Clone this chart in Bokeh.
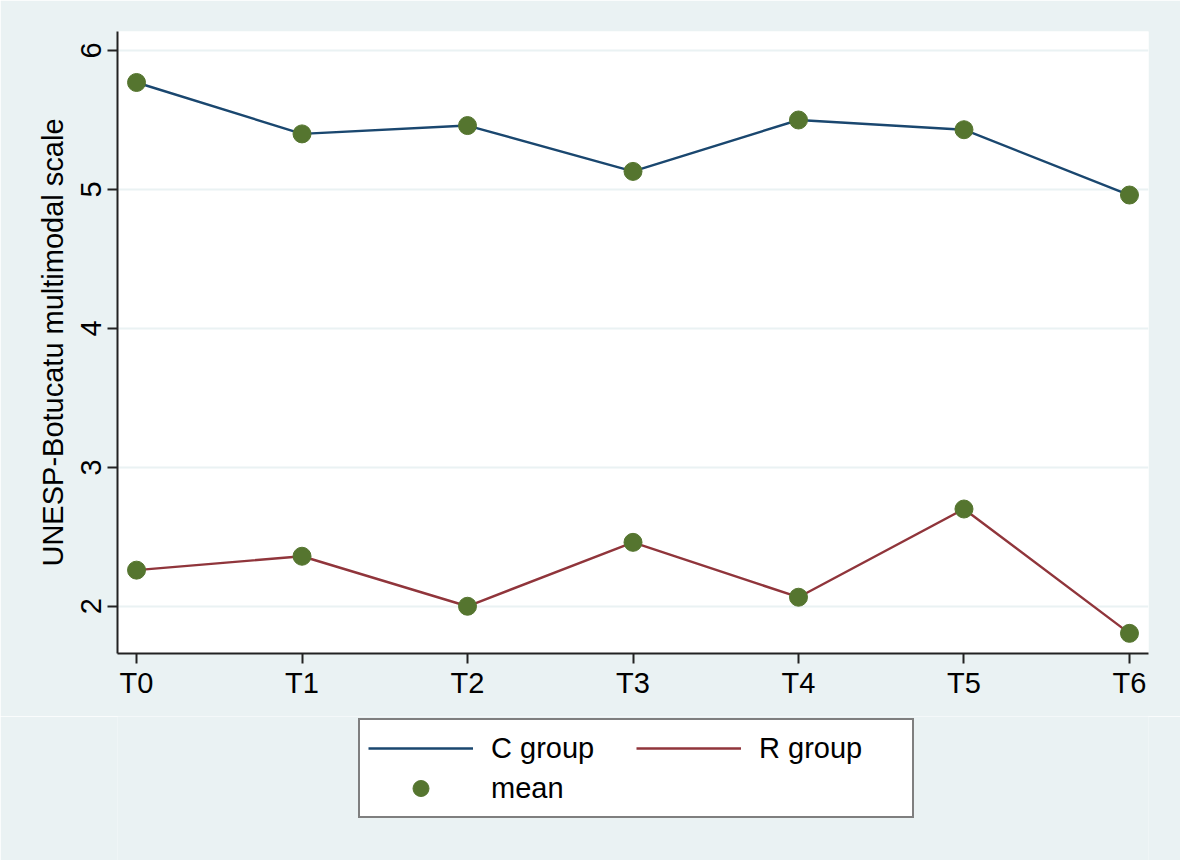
from bokeh.plotting import figure
from bokeh.layouts import column
from bokeh.models import Range1d, FixedTicker, Legend, LegendItem, ColumnDataSource
from bokeh.embed import file_html
from bokeh.resources import INLINE

categories = ["T0", "T1", "T2", "T3", "T4", "T5", "T6"]
c_group = [5.77, 5.40, 5.46, 5.13, 5.50, 5.43, 4.96]
r_group = [2.26, 2.36, 2.00, 2.46, 2.065, 2.70, 1.805]
y_ticks = [2, 3, 4, 5, 6]
legend_labels = ["C group", "R group", "mean"]

FONT = "Liberation Sans"
BG = "#EAF2F3"
C_COL = "#1A476F"
R_COL = "#90353B"
M_COL = "#55752F"

x = list(range(len(categories)))
src = ColumnDataSource(dict(x=x, c=c_group, r=r_group))

p = figure(width=1180, height=716, output_backend="svg", toolbar_location=None,
           x_range=Range1d(-0.115, 6.115), y_range=Range1d(1.66, 6.137),
           min_border_left=117, min_border_right=32, min_border_top=31, min_border_bottom=63)
p.border_fill_color = BG
p.background_fill_color = "white"
p.outline_line_color = None

p.line("x", "c", source=src, line_color=C_COL, line_width=2.4)
p.line("x", "r", source=src, line_color=R_COL, line_width=2.4)
p.scatter("x", "c", source=src, size=18, fill_color=M_COL, line_color=M_COL)
p.scatter("x", "r", source=src, size=18, fill_color=M_COL, line_color=M_COL)

# axes
p.xaxis.ticker = FixedTicker(ticks=x)
p.xaxis.major_label_overrides = {i: c for i, c in enumerate(categories)}
p.yaxis.ticker = FixedTicker(ticks=y_ticks)
p.yaxis.axis_label = "UNESP-Botucatu multimodal scale"
p.yaxis.major_label_orientation = "vertical"
for ax in (p.xaxis[0], p.yaxis[0]):
    ax.axis_line_color = "#222222"
    ax.axis_line_width = 2
    ax.major_tick_line_color = "#222222"
    ax.major_tick_line_width = 2
    ax.major_tick_out = 10
    ax.major_tick_in = 0
    ax.minor_tick_line_color = None
    ax.major_label_text_font = FONT
    ax.major_label_text_font_size = "29px"
    ax.major_label_text_color = "black"
    ax.axis_label_text_font = FONT
    ax.axis_label_text_font_size = "29px"
    ax.axis_label_text_font_style = "normal"
    ax.axis_label_text_color = "black"
p.xaxis.major_label_standoff = 3
p.yaxis.major_label_standoff = 6
p.yaxis.axis_label_standoff = 10

p.xgrid.grid_line_color = None
p.ygrid.grid_line_color = BG
p.ygrid.grid_line_width = 2

# legend strip (separate figure below the plot, no axes)
p2 = figure(width=1180, height=144, output_backend="svg", toolbar_location=None,
            x_range=Range1d(0, 1), y_range=Range1d(0, 1),
            x_axis_location=None, y_axis_location=None,
            min_border_left=0, min_border_right=0, min_border_top=0, min_border_bottom=0)
p2.grid.visible = False
p2.outline_line_color = None
p2.background_fill_color = BG
p2.border_fill_color = BG
# off-range placeholder point so the legend swatches have styles to draw
dummy = ColumnDataSource(dict(x=[-10], y=[-10]))
g1 = p2.line("x", "y", source=dummy, line_color=C_COL, line_width=2.4)
g2 = p2.line("x", "y", source=dummy, line_color=R_COL, line_width=2.4)
g3 = p2.scatter("x", "y", source=dummy, size=18, fill_color=M_COL, line_color=M_COL)

legend = Legend(items=[
    LegendItem(label=legend_labels[0], renderers=[g1]),
    LegendItem(label=legend_labels[1], renderers=[g2]),
    LegendItem(label=legend_labels[2], renderers=[g3]),
], location=(241, 42), orientation="horizontal", ncols=2)
legend.label_text_font = FONT
legend.label_text_font_size = "29px"
legend.label_text_color = "black"
legend.glyph_width = 105
legend.glyph_height = 40
legend.label_height = 40
legend.label_width = 145
legend.label_standoff = 18
legend.padding = 8
legend.spacing = 0
legend.margin = 0
legend.border_line_color = "black"
legend.border_line_width = 2
legend.background_fill_color = "white"
legend.background_fill_alpha = 1.0
p2.add_layout(legend, "center")

layout = column(p, p2, spacing=0)
open("out.html", "w").write(file_html(layout, INLINE))
